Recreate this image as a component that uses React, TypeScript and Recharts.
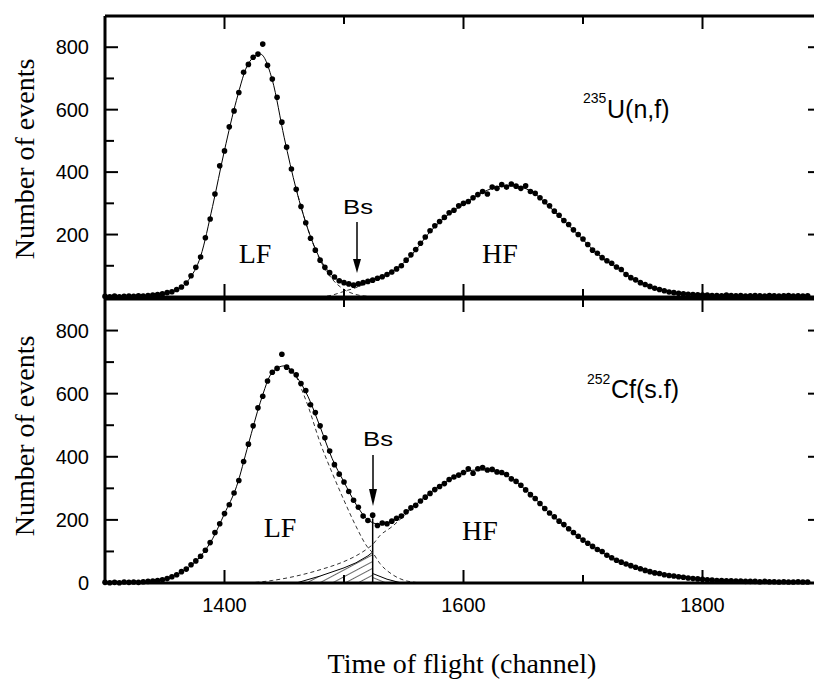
import React from "react"
import { ComposedChart, Scatter, Line, Area, XAxis, YAxis, ReferenceLine } from "recharts"

// measured points are one every 4 channels starting at 1300
const scatterStart = 1300
const scatterStep = 4
// fitted curves are sampled every 10 channels starting at 1300
const fitStart = 1300
const fitStep = 10

const u235Counts = [
  2, 1, 3, 1, 2, 3, 2, 4, 3, 5,
  6, 8, 10, 14, 17, 24, 32, 45, 68, 95,
  128, 190, 250, 330, 420, 468, 545, 596, 655, 720,
  745, 768, 778, 810, 742, 698, 640, 560, 480, 410,
  345, 290, 238, 188, 150, 118, 95, 78, 64, 52,
  46, 42, 38, 42, 46, 50, 54, 60, 65, 72,
  80, 90, 100, 118, 135, 152, 172, 192, 212, 228,
  242, 255, 270, 278, 292, 300, 306, 318, 328, 338,
  330, 352, 348, 360, 352, 362, 355, 348, 356, 338,
  332, 318, 305, 292, 275, 262, 245, 232, 215, 200,
  186, 168, 150, 140, 126, 116, 108, 96, 88, 72,
  62, 55, 46, 40, 34, 28, 24, 20, 16, 14,
  12, 10, 9, 8, 7, 6, 6, 5, 5, 4,
  6, 5, 4, 5, 3, 4, 5, 4, 3, 5,
  4, 3, 4, 5, 3, 4, 3, 4,
]

const u235Fit = [
  0, 0, 1, 2, 5, 11, 22, 55, 130, 290,
  470, 630, 748, 778, 695, 510, 345, 215, 122, 70,
  46, 40, 50, 64, 82, 110, 150, 200, 240, 272,
  296, 322, 342, 354, 356, 350, 330, 296, 260, 222,
  184, 145, 115, 92, 62, 42, 28, 18, 12, 8,
  6, 5, 5, 4, 4, 4, 4, 4, 3, 3,
]

const u235LfChannels = [1460, 1470, 1480, 1490, 1500, 1510, 1520, 1530]
const u235LfValues = [345, 215, 118, 58, 24, 8, 2, 0]
const u235HfChannels = [1480, 1490, 1500, 1510, 1520, 1530, 1540]
const u235HfValues = [0, 6, 18, 30, 46, 62, 80]

const cf252Counts = [
  2, 1, 2, 1, 3, 2, 3, 2, 4, 5,
  6, 8, 10, 14, 20, 26, 36, 44, 58, 70,
  85, 104, 128, 160, 188, 220, 248, 285, 325, 385,
  440, 498, 555, 592, 640, 668, 680, 725, 684, 672,
  660, 632, 610, 565, 540, 498, 460, 418, 375, 345,
  320, 290, 262, 240, 212, 198, 215, 182, 190, 188,
  196, 205, 212, 226, 238, 246, 260, 272, 284, 296,
  306, 315, 328, 336, 342, 350, 362, 348, 362, 366,
  358, 360, 352, 350, 344, 330, 322, 310, 295, 280,
  268, 252, 236, 222, 210, 196, 185, 172, 160, 148,
  136, 126, 116, 106, 100, 88, 80, 72, 66, 60,
  55, 50, 45, 40, 36, 32, 30, 26, 24, 22,
  20, 18, 16, 14, 13, 12, 10, 9, 8, 8,
  7, 7, 6, 6, 5, 5, 5, 4, 5, 4,
  4, 3, 4, 3, 3, 4, 3, 3,
]

const cf252Fit = [
  0, 0, 1, 2, 5, 12, 27, 50, 85, 140,
  220, 305, 440, 573, 668, 688, 655, 590, 495, 395,
  320, 250, 200, 186, 195, 218, 248, 280, 308, 332,
  350, 358, 358, 350, 332, 302, 268, 228, 196, 165,
  136, 112, 88, 70, 54, 42, 32, 25, 20, 15,
  11, 8, 7, 6, 5, 4, 4, 3, 3, 3,
]

const cf252LfChannels = [1460, 1470, 1480, 1490, 1500, 1510, 1520, 1524, 1530, 1540, 1550, 1560]
const cf252LfValues = [655, 560, 445, 350, 262, 180, 112, 96, 62, 28, 9, 2]
const cf252HfChannels = [1420, 1440, 1460, 1480, 1500, 1510, 1520, 1524, 1530, 1540, 1550, 1560]
const cf252HfValues = [0, 8, 22, 42, 68, 86, 110, 122, 150, 178, 212, 244]
const cf252HatchLeftChannels = [1460, 1480, 1500, 1510, 1520, 1524]
const cf252HatchLeftValues = [0, 22, 48, 64, 86, 98]
const cf252HatchRightChannels = [1524, 1536, 1548]
const cf252HatchRightValues = [30, 12, 0]
const cf252Boundary = 1524
const cf252BoundaryTop = 205

const xTicks = [1400, 1500, 1600, 1700, 1800]
const xLabels = [1400, 1600, 1800]
const yTicks = [100, 200, 300, 400, 500, 600, 700, 800]
const yLabelsTop = [200, 400, 600, 800]
const yLabelsBottom = [0, 200, 400, 600, 800]
const X_DOMAIN = [1300, 1900]
const Y_DOMAIN = [0, 900]

const SANS = "'Liberation Sans', Arial, sans-serif"
const SERIF = "'Liberation Serif', 'Times New Roman', serif"

const grid = (start: number, step: number, values: number[]) =>
  values.map((y, i) => ({ x: start + i * step, y }))
const pairs = (xs: number[], ys: number[]) => xs.map((x, i) => ({ x, y: ys[i] }))

// tick marks sit on the frame and point into the plot
const tickMarks = [
  ...xTicks.map((t) => ({ x: t, y: Y_DOMAIN[1], dir: "down", len: xLabels.includes(t) ? 13 : 8 })),
  ...xTicks.map((t) => ({ x: t, y: Y_DOMAIN[0], dir: "up", len: xLabels.includes(t) ? 13 : 8 })),
  ...yTicks.map((t) => ({ x: X_DOMAIN[0], y: t, dir: "right", len: t % 200 === 0 ? 13 : 9 })),
  ...yTicks.filter((t) => t % 200 === 0).map((t) => ({ x: X_DOMAIN[1], y: t, dir: "left", len: 14 })),
]
const frameTop = [{ x: X_DOMAIN[0], y: Y_DOMAIN[1] }, { x: X_DOMAIN[1], y: Y_DOMAIN[1] }]
const frameBottom = [{ x: X_DOMAIN[0], y: Y_DOMAIN[0] }, { x: X_DOMAIN[1], y: Y_DOMAIN[0] }]
const frameLeft = [{ x: X_DOMAIN[0], y: Y_DOMAIN[0] }, { x: X_DOMAIN[0], y: Y_DOMAIN[1] }]

const Dot = (props: any) => {
  const { cx, cy } = props
  if (cx == null || cy == null) return null
  return <circle cx={cx} cy={cy} r={2.8} fill="#000" />
}

const TickMark = (props: any) => {
  const { cx, cy } = props
  const d = props.payload ?? props
  if (cx == null || cy == null) return null
  const dx = d.dir === "right" ? d.len : d.dir === "left" ? -d.len : 0
  const dy = d.dir === "down" ? d.len : d.dir === "up" ? -d.len : 0
  return <line x1={cx} y1={cy} x2={cx + dx} y2={cy + dy} stroke="#000" strokeWidth={2} />
}

const tickFont = { fill: "#000", fontSize: 20, fontFamily: SANS }

interface PanelProps {
  counts: number[]
  fit: number[]
  lf: { x: number; y: number }[]
  hf: { x: number; y: number }[]
  height: number
  marginTop: number
  marginBottom: number
  bottomAxisHeight: number
  showXLabels: boolean
  yLabels: number[]
  children?: React.ReactNode
}

function Panel({ counts, fit, lf, hf, height, marginTop, marginBottom, bottomAxisHeight, showXLabels, yLabels, children }: PanelProps) {
  return (
    <ComposedChart width={823} height={height} margin={{ top: marginTop, right: 1, bottom: marginBottom, left: 0 }}>
      <XAxis
        xAxisId="b"
        dataKey="x"
        type="number"
        domain={X_DOMAIN}
        ticks={xLabels}
        height={bottomAxisHeight}
        tickSize={0}
        tickMargin={15}
        tickLine={false}
        axisLine={false}
        tick={showXLabels ? tickFont : false}
      />
      <YAxis
        yAxisId="l"
        type="number"
        domain={Y_DOMAIN}
        ticks={yLabels}
        width={105}
        tickSize={0}
        tickMargin={16}
        tickLine={false}
        axisLine={false}
        tick={tickFont}
      />
      {children}
      <Line xAxisId="b" yAxisId="l" data={lf} dataKey="y" type="monotone" stroke="#333" strokeWidth={1} strokeDasharray="4 3" dot={false} isAnimationActive={false} />
      <Line xAxisId="b" yAxisId="l" data={hf} dataKey="y" type="monotone" stroke="#333" strokeWidth={1} strokeDasharray="4 3" dot={false} isAnimationActive={false} />
      <Scatter xAxisId="b" yAxisId="l" data={grid(scatterStart, scatterStep, counts)} dataKey="y" fill="#000" shape={(p: any) => <Dot {...p} />} isAnimationActive={false} />
      <Line xAxisId="b" yAxisId="l" data={grid(fitStart, fitStep, fit)} dataKey="y" type="monotone" stroke="#000" strokeWidth={1} dot={false} isAnimationActive={false} />

      <Line xAxisId="b" yAxisId="l" data={frameTop} dataKey="y" type="linear" stroke="#000" strokeWidth={3} dot={false} isAnimationActive={false} />
      <Line xAxisId="b" yAxisId="l" data={frameBottom} dataKey="y" type="linear" stroke="#000" strokeWidth={3} dot={false} isAnimationActive={false} />
      <Line xAxisId="b" yAxisId="l" data={frameLeft} dataKey="y" type="linear" stroke="#000" strokeWidth={3} dot={false} isAnimationActive={false} />
      <Scatter xAxisId="b" yAxisId="l" data={tickMarks} dataKey="y" fill="#000" shape={(p: any) => <TickMark {...p} />} isAnimationActive={false} />
    </ComposedChart>
  )
}

export default function App() {
  return (
    <div style={{ position: "absolute", left: 0, top: 0, width: 814, height: 682, overflow: "hidden", background: "#fff" }}>
      <svg width={0} height={0} style={{ position: "absolute" }}>
        <defs>
          <pattern id="hatchL" patternUnits="userSpaceOnUse" width={8} height={6} patternTransform="rotate(-28)">
            <line x1={0} y1={0} x2={8} y2={0} stroke="#000" strokeWidth={1.2} />
          </pattern>
          <pattern id="hatchR" patternUnits="userSpaceOnUse" width={8} height={5} patternTransform="rotate(22)">
            <line x1={0} y1={0} x2={8} y2={0} stroke="#000" strokeWidth={1.2} />
          </pattern>
        </defs>
      </svg>

      <div style={{ position: "absolute", left: 0, top: 0 }}>
        <Panel
          counts={u235Counts}
          fit={u235Fit}
          lf={pairs(u235LfChannels, u235LfValues)}
          hf={pairs(u235HfChannels, u235HfValues)}
          height={300}
          marginTop={16}
          marginBottom={3}
          bottomAxisHeight={0}
          showXLabels={false}
          yLabels={yLabelsTop}
        />
      </div>

      <div style={{ position: "absolute", left: 0, top: 297 }}>
        <Panel
          counts={cf252Counts}
          fit={cf252Fit}
          lf={pairs(cf252LfChannels, cf252LfValues)}
          hf={pairs(cf252HfChannels, cf252HfValues)}
          height={385}
          marginTop={2}
          marginBottom={0}
          bottomAxisHeight={99}
          showXLabels={true}
          yLabels={yLabelsBottom}
        >
          <Area xAxisId="b" yAxisId="l" data={pairs(cf252HatchLeftChannels, cf252HatchLeftValues)} dataKey="y" type="linear" fill="url(#hatchL)" fillOpacity={1} stroke="#000" strokeWidth={1} isAnimationActive={false} />
          <Area xAxisId="b" yAxisId="l" data={pairs(cf252HatchRightChannels, cf252HatchRightValues)} dataKey="y" type="linear" fill="url(#hatchR)" fillOpacity={1} stroke="#000" strokeWidth={1} isAnimationActive={false} />
          <ReferenceLine
            xAxisId="b"
            yAxisId="l"
            segment={[{ x: cf252Boundary, y: 0 }, { x: cf252Boundary, y: cf252BoundaryTop }]}
            stroke="#000"
            strokeWidth={1.5}
          />
        </Panel>
      </div>

      <svg width={814} height={682} style={{ position: "absolute", left: 0, top: 0, pointerEvents: "none" }}>
        <text transform="translate(34,159) rotate(-90)" textAnchor="middle" fontFamily={SERIF} fontSize={28} fill="#000">Number of events</text>
        <text transform="translate(34,436) rotate(-90)" textAnchor="middle" fontFamily={SERIF} fontSize={28} fill="#000">Number of events</text>
        <text x={462} y={673} textAnchor="middle" fontFamily={SERIF} fontSize={28} fill="#000">Time of flight (channel)</text>

        <text x={255} y={263} textAnchor="middle" fontFamily={SERIF} fontSize={28} fill="#000">LF</text>
        <text x={500} y={263} textAnchor="middle" fontFamily={SERIF} fontSize={28} fill="#000">HF</text>
        <text x={280} y={537} textAnchor="middle" fontFamily={SERIF} fontSize={28} fill="#000">LF</text>
        <text x={480} y={540} textAnchor="middle" fontFamily={SERIF} fontSize={28} fill="#000">HF</text>

        <text x={343} y={214} fontFamily={SANS} fontSize={21} textLength={30} lengthAdjust="spacingAndGlyphs" fill="#000">Bs</text>
        <line x1={357} y1={222} x2={357} y2={262} stroke="#000" strokeWidth={1.5} />
        <polygon points="353,259 361,259 357,273" fill="#000" />
        <text x={363} y={446} fontFamily={SANS} fontSize={21} textLength={30} lengthAdjust="spacingAndGlyphs" fill="#000">Bs</text>
        <line x1={373} y1={455} x2={373} y2={492} stroke="#000" strokeWidth={1.5} />
        <polygon points="369,489 377,489 373,506" fill="#000" />

        <text x={583} y={103} fontFamily={SANS} fontSize={14} fill="#000">235</text>
        <text x={607} y={118} fontFamily={SANS} fontSize={25} fill="#000">U(n,f)</text>
        <text x={587} y={384} fontFamily={SANS} fontSize={14} fill="#000">252</text>
        <text x={611} y={398} fontFamily={SANS} fontSize={25} fill="#000">Cf(s.f)</text>
      </svg>
    </div>
  )
}
